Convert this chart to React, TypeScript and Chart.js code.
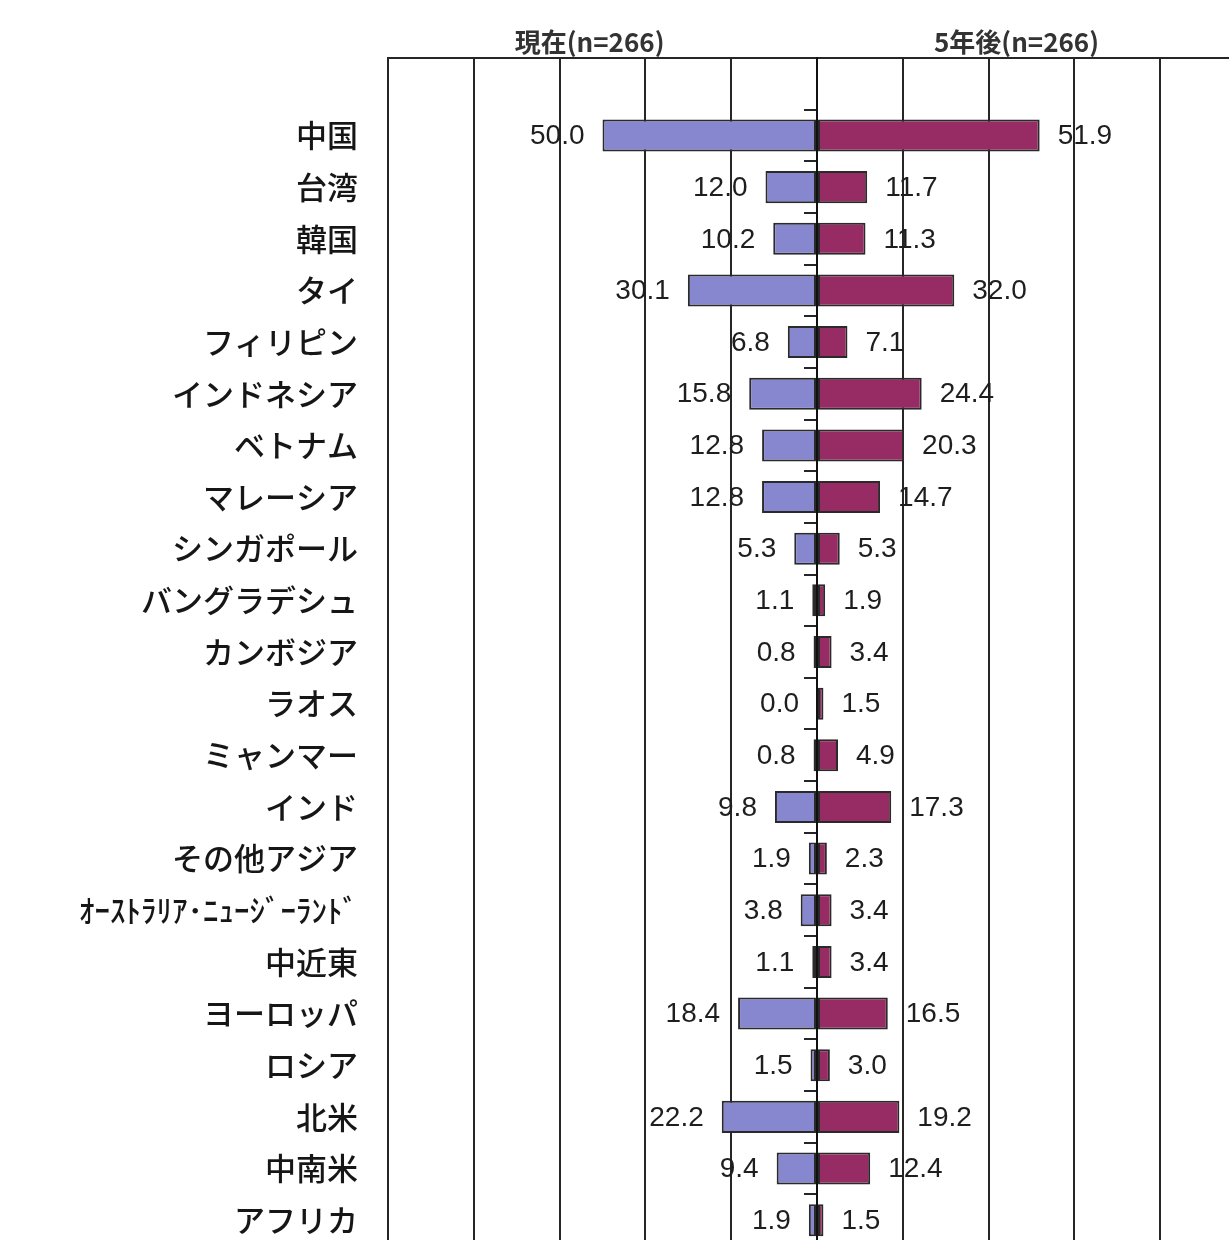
import React, { useEffect, useRef } from 'react';
import { Chart, registerables } from 'chart.js';

Chart.register(...registerables);

// Destinations (top to bottom)
const regions = [
  '中国', '台湾', '韓国', 'タイ', 'フィリピン', 'インドネシア', 'ベトナム', 'マレーシア',
  'シンガポール', 'バングラデシュ', 'カンボジア', 'ラオス', 'ミャンマー', 'インド',
  'その他アジア', 'ｵｰｽﾄﾗﾘｱ･ﾆｭｰｼﾞｰﾗﾝﾄﾞ', '中近東', 'ヨーロッパ', 'ロシア', '北米', '中南米', 'アフリカ',
];

// Share of respondents (%)
const currentShare = [
  50.0, 12.0, 10.2, 30.1, 6.8, 15.8, 12.8, 12.8, 5.3, 1.1, 0.8,
  0.0, 0.8, 9.8, 1.9, 3.8, 1.1, 18.4, 1.5, 22.2, 9.4, 1.9,
];
const futureShare = [
  51.9, 11.7, 11.3, 32.0, 7.1, 24.4, 20.3, 14.7, 5.3, 1.9, 3.4,
  1.5, 4.9, 17.3, 2.3, 3.4, 3.4, 16.5, 3.0, 19.2, 12.4, 1.5,
];

const seriesNames = ['現在(n=266)', '5年後(n=266)'];

// Value axis: -100..100 in steps of 20 (left half = current, right half = future)
const axisMin = -100;
const axisMax = 100;
const axisStep = 20;

const JP_FONT = '"Noto Sans CJK JP", "Noto Sans CJK SC", sans-serif';
const NUM_FONT = '"Liberation Sans", Arial, sans-serif';
const LINE = '#262626';

// Numeric labels just outside each bar end
const valueLabels = {
  id: 'valueLabels',
  afterDatasetsDraw(chart: any) {
    const { ctx } = chart;
    ctx.save();
    ctx.font = `28px ${NUM_FONT}`;
    ctx.fillStyle = '#1e1e1e';
    ctx.textBaseline = 'middle';
    chart.data.datasets.forEach((ds: any, di: number) => {
      const meta = chart.getDatasetMeta(di);
      meta.data.forEach((el: any, i: number) => {
        const raw = ds.data[i];
        if (raw === null || raw === undefined) return;
        const text = Math.abs(raw).toFixed(1);
        if (di === 0) {
          ctx.textAlign = 'right';
          ctx.fillText(text, el.x - 18, el.y + 1);
        } else {
          ctx.textAlign = 'left';
          ctx.fillText(text, el.x + 18, el.y + 1);
        }
      });
    });
    ctx.restore();
  },
};

// Series headings above each half of the plot
const halfHeadings = {
  id: 'halfHeadings',
  afterDraw(chart: any) {
    const { ctx } = chart;
    const xs = chart.scales.x;
    const centers = [-53, 46.5];
    ctx.save();
    ctx.font = `bold 26px ${JP_FONT}`;
    ctx.fillStyle = '#333';
    ctx.textAlign = 'center';
    ctx.textBaseline = 'middle';
    chart.data.datasets.forEach((ds: any, di: number) => {
      ctx.fillText(ds.label, xs.getPixelForValue(centers[di]), 42);
    });
    ctx.restore();
  },
};

export default function App() {
  const canvasRef = useRef<HTMLCanvasElement>(null);

  useEffect(() => {
    if (!canvasRef.current) return;
    // leading blank row leaves an empty band under the top frame
    const labels = ['', ...regions];
    const chart = new Chart(canvasRef.current, {
      type: 'bar',
      data: {
        labels,
        datasets: [
          {
            label: seriesNames[0],
            data: [null, ...currentShare.map((v) => -v)],
            backgroundColor: '#8787cf',
            borderColor: '#2a2a2a',
            borderWidth: 2,
            borderSkipped: false,
            barPercentage: 0.62,
            categoryPercentage: 1,
          },
          {
            label: seriesNames[1],
            data: [null, ...futureShare],
            backgroundColor: '#972b64',
            borderColor: '#2a2a2a',
            borderWidth: 2,
            borderSkipped: false,
            barPercentage: 0.62,
            categoryPercentage: 1,
          },
        ],
      },
      options: {
        indexAxis: 'y',
        responsive: false,
        animation: false,
        layout: { padding: { top: 58, right: 16, bottom: 16, left: 0 } },
        plugins: {
          legend: { display: false },
          tooltip: { enabled: false },
        },
        scales: {
          x: {
            type: 'linear',
            position: 'top',
            stacked: true,
            min: axisMin,
            max: axisMax,
            ticks: { display: false, stepSize: axisStep },
            grid: { color: LINE, lineWidth: 2, drawTicks: false },
            border: { display: true, color: LINE, width: 2 },
            afterFit: (s: any) => {
              s.height = 0;
              s.paddingLeft = 0;
              s.paddingRight = 0;
            },
          },
          y: {
            type: 'category',
            position: 'left',
            stacked: true,
            offset: true,
            grid: { display: false, offset: true, drawTicks: false },
            border: { display: true, color: LINE, width: 2 },
            ticks: {
              padding: 30,
              color: '#161616',
              autoSkip: false,
              font: { family: JP_FONT, size: 31, weight: '500' },
            },
            afterFit: (s: any) => {
              s.width = 388;
              s.paddingTop = 0;
              s.paddingBottom = 0;
            },
          },
          yc: {
            type: 'category',
            position: { x: 0 },
            offset: true,
            z: 1,
            grid: {
              offset: true,
              drawOnChartArea: false,
              drawTicks: true,
              tickLength: 12,
              color: LINE,
              lineWidth: 2,
            },
            border: { display: true, color: '#111', width: 2 },
            ticks: { display: false },
            afterFit: (s: any) => {
              s.paddingTop = 0;
              s.paddingBottom = 0;
            },
          },
        },
      } as any,
      plugins: [valueLabels, halfHeadings],
    });
    return () => chart.destroy();
  }, []);

  return (
    <div
      style={{
        position: 'fixed',
        left: 0,
        top: 0,
        width: 1229,
        height: 1240,
        overflow: 'hidden',
        background: '#fff',
      }}
    >
      <canvas ref={canvasRef} width={1262} height={1262} style={{ display: 'block' }} />
    </div>
  );
}
